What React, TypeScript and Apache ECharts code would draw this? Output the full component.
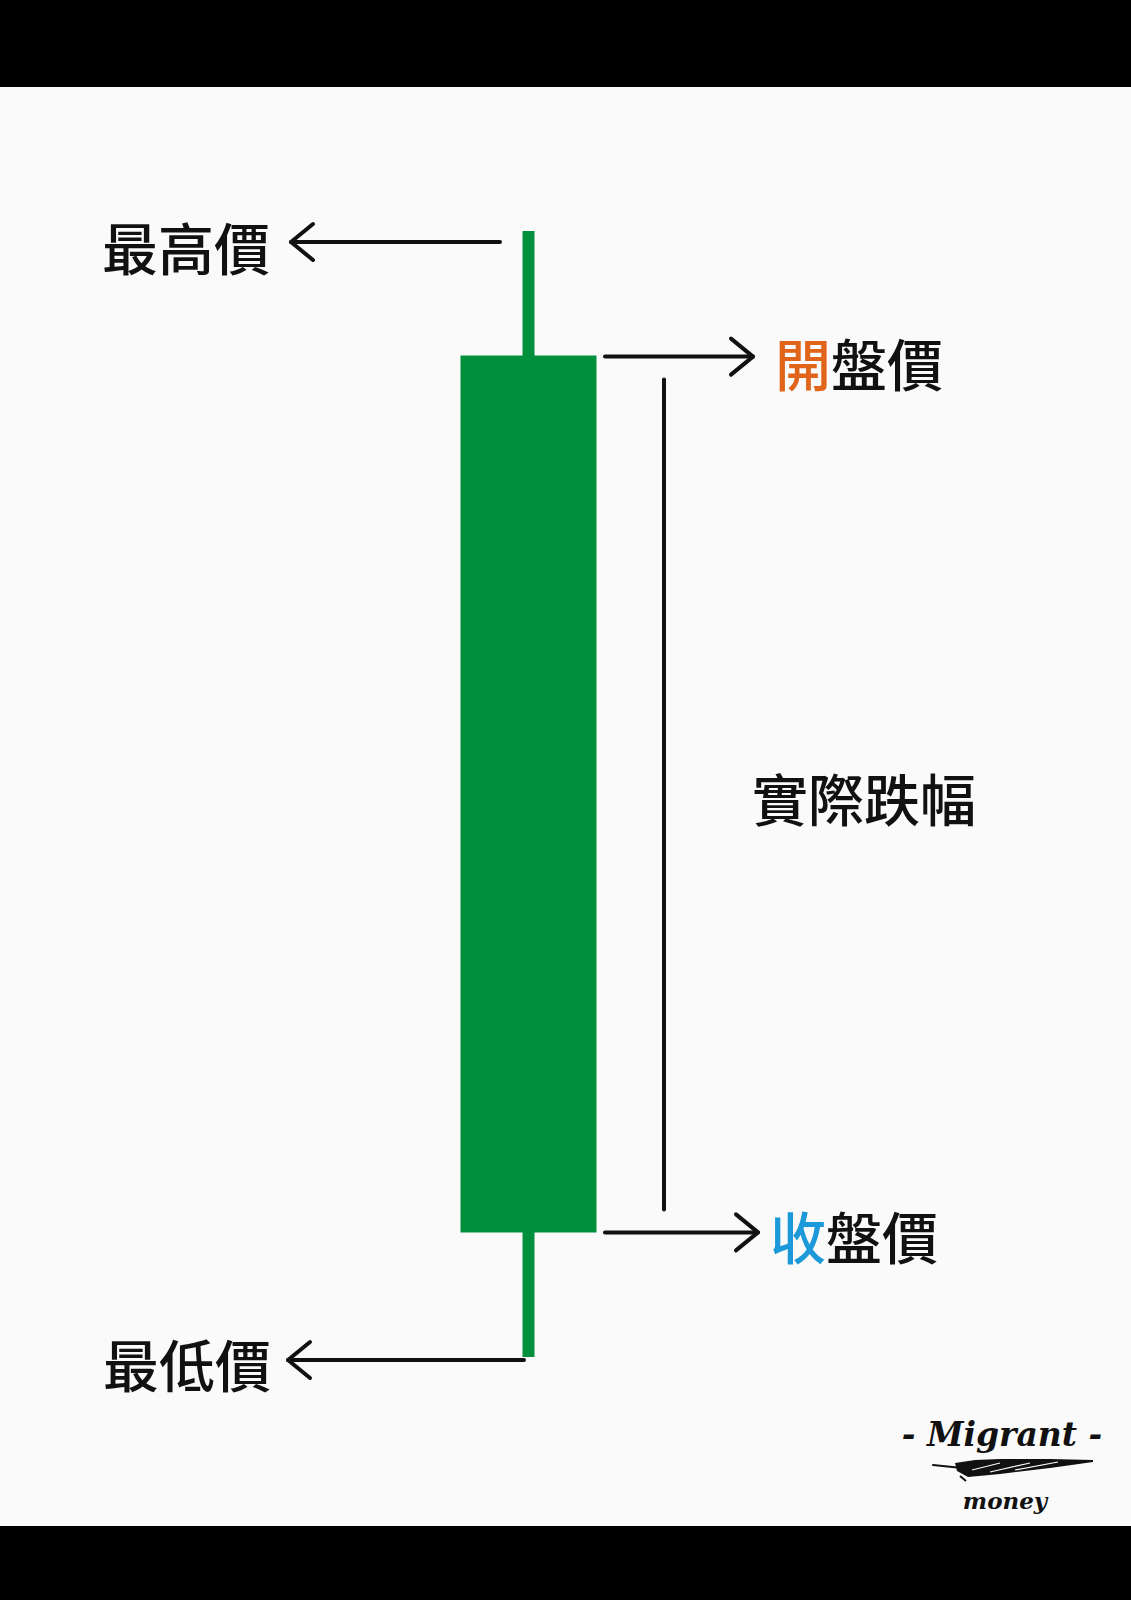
import React, { useEffect, useRef } from "react";
import * as echarts from "echarts";

// ---- data ----
const categories = ["K"];
// [open, close, low, high]
const candleValues = [94.2, 55.8, 50, 100];
const axisRange = [50, 100];
const labelHigh = "最高價";
const labelOpenFirst = "開";
const labelClosedFirst = "收";
const labelTail = "盤價";
const labelLow = "最低價";
const labelRange = "實際跌幅";
const brandTop = "- Migrant -";
const brandBottom = "money";

const GREEN = "#008f3a";
const INK = "#111111";
const CJK = "'Noto Sans CJK TC', 'Noto Sans CJK SC', sans-serif";

export default function App() {
  const ref = useRef<HTMLDivElement>(null);

  useEffect(() => {
    if (!ref.current) return;
    const chart = echarts.init(ref.current, null, { renderer: "svg" });
    chart.setOption({
      animation: false,
      backgroundColor: "#fafafa",
      grid: { left: 428.5, width: 200, top: 231, height: 1126 },
      xAxis: { type: "category", data: categories, show: false, boundaryGap: true },
      yAxis: { type: "value", min: axisRange[0], max: axisRange[1], show: false },
      series: [
        {
          type: "candlestick",
          data: [candleValues],
          barWidth: 124,
          clip: false,
          itemStyle: {
            color: GREEN,
            color0: GREEN,
            borderColor: GREEN,
            borderColor0: GREEN,
            borderWidth: 12,
          },
        },
      ],
    });

    const py = (v: number) =>
      (chart.convertToPixel({ gridIndex: 0 }, [categories[0], v]) as number[])[1];
    const yOpen = py(candleValues[0]);
    const yClose = py(candleValues[1]);
    const yLow = py(candleValues[2]);
    const yHigh = py(candleValues[3]);

    const stroke = { stroke: INK, lineWidth: 4, lineCap: "round", lineJoin: "round" };
    const line = (x1: number, y1: number, x2: number, y2: number) => ({
      type: "line",
      shape: { x1, y1, x2, y2 },
      style: stroke,
    });
    const head = (tx: number, ty: number, dir: number) => ({
      type: "polyline",
      shape: {
        points: [
          [tx - dir * 22, ty - 18],
          [tx, ty],
          [tx - dir * 22, ty + 18],
        ],
      },
      style: { ...stroke, fill: null },
    });
    const txt = (x: number, y: number, rich: string) => ({
      type: "text",
      x,
      y,
      style: {
        text: rich,
        fontFamily: CJK,
        fontSize: 56,
        fontWeight: 500,
        fill: INK,
        verticalAlign: "middle",
        textAlign: "left",
        rich: {
          o: { fill: "#e0651b", fontSize: 56, fontWeight: 500, fontFamily: CJK },
          b: { fill: "#1b99d9", fontSize: 56, fontWeight: 500, fontFamily: CJK },
          k: { fill: INK, fontSize: 56, fontWeight: 500, fontFamily: CJK },
        },
      },
    });

    const yA1 = yHigh + 11;
    const yA2 = yOpen - 5;
    const yA3 = yClose + 6;
    const yA4 = yLow + 3;

    chart.setOption({
      graphic: [
        { type: "rect", shape: { x: 0, y: 0, width: 1131, height: 87 }, style: { fill: "#000" } },
        { type: "rect", shape: { x: 0, y: 1526, width: 1131, height: 74 }, style: { fill: "#000" } },
        // high
        line(291, yA1, 500, yA1),
        head(291, yA1, -1),
        txt(102, yA1 + 3, labelHigh),
        // open
        line(605, yA2, 753, yA2),
        head(753, yA2, 1),
        txt(775, yA2 + 5, `{o|${labelOpenFirst}}{k|${labelTail}}`),
        // range bar
        line(664, yOpen + 18, 664, yClose - 17),
        txt(752, (yOpen + yClose) / 2 + 2, labelRange),
        // close
        line(605, yA3, 758, yA3),
        head(758, yA3, 1),
        txt(770, yA3 + 2, `{b|${labelClosedFirst}}{k|${labelTail}}`),
        // low
        line(288, yA4, 524, yA4),
        head(288, yA4, -1),
        txt(103, yA4 + 2, labelLow),
        // brand
        {
          type: "text",
          x: 1002,
          y: 1434,
          style: {
            text: brandTop,
            fontFamily: "'DejaVu Serif', serif",
            fontStyle: "italic",
            fontWeight: "bold",
            fontSize: 33,
            fill: INK,
            textAlign: "center",
            verticalAlign: "middle",
          },
        },
        {
          type: "line",
          shape: { x1: 933, y1: 1465, x2: 962, y2: 1468 },
          style: { stroke: INK, lineWidth: 2, lineCap: "round" },
        },
        {
          type: "polygon",
          shape: {
            points: [
              [955, 1463],
              [975, 1460],
              [1000, 1459],
              [1050, 1459],
              [1093, 1460],
              [1093, 1462],
              [1050, 1468],
              [1000, 1474],
              [968, 1477],
              [957, 1471],
            ],
          },
          style: { fill: INK },
        },
        { type: "line", shape: { x1: 960, y1: 1476, x2: 966, y2: 1481 }, style: { stroke: INK, lineWidth: 2 } },
        { type: "line", shape: { x1: 972, y1: 1470, x2: 1000, y2: 1463 }, style: { stroke: "#fafafa", lineWidth: 1.2 } },
        { type: "line", shape: { x1: 990, y1: 1472, x2: 1030, y2: 1463 }, style: { stroke: "#fafafa", lineWidth: 1.2 } },
        { type: "line", shape: { x1: 1015, y1: 1470, x2: 1058, y2: 1462 }, style: { stroke: "#fafafa", lineWidth: 1.2 } },
        {
          type: "text",
          x: 1005,
          y: 1500,
          style: {
            text: brandBottom,
            fontFamily: "'DejaVu Serif', serif",
            fontStyle: "italic",
            fontWeight: "bold",
            fontSize: 23,
            fill: INK,
            textAlign: "center",
            verticalAlign: "middle",
          },
        },
      ],
    });

    return () => chart.dispose();
  }, []);

  return (
    <div
      ref={ref}
      style={{ position: "absolute", left: 0, top: 0, width: 1131, height: 1600 }}
    />
  );
}
